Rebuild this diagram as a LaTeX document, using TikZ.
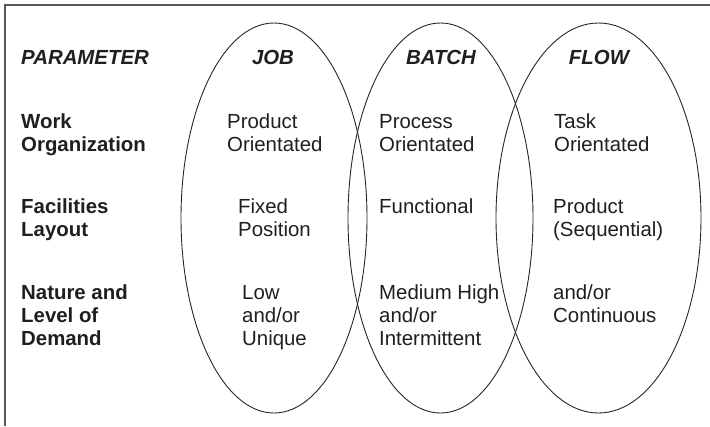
\documentclass[tikz,border=0pt]{standalone}
\usepackage{fontspec}
\setmainfont{Liberation Sans}
\usepackage{tikz}

\begin{document}
\begin{tikzpicture}[x=1pt, y=-1pt,
                    every node/.style={inner sep=0pt, anchor=base west, align=left, text=black!88,
                                       font=\fontsize{20.4}{23}\selectfont},
                    head_text/.style={anchor=base, font=\fontsize{20.4}{23}\selectfont\bfseries\itshape},
                    row_text/.style={font=\fontsize{20.4}{23}\selectfont\bfseries},
                    set_ellipse/.style={draw=black!85, line width=0.9pt},
                    frame_line/.style={draw=black!65, line width=1.6pt}
                ]
                    \useasboundingbox (0,0) rectangle (710,426);
                    \draw[frame_line] (5,426) -- (5,5) -- (710,5);

                    % the three sets
                    \draw[set_ellipse] (274,218) ellipse [x radius=93, y radius=195];
                    \draw[set_ellipse] (440.5,218) ellipse [x radius=92.5, y radius=195];
                    \draw[set_ellipse] (598.5,218) ellipse [x radius=102.5, y radius=195];

                    % headings
                    \node[head_text, anchor=base west] (param) at (21,64) {PARAMETER};
                    \node[head_text] (job) at (273,64) {JOB};
                    \node[head_text] (batch) at (441,64) {BATCH};
                    \node[head_text] (flow) at (599,64) {FLOW};

                    % parameters (placed at the baseline of the last line)
                    \node[row_text] (work) at (21,151) {Work\\Organization};
                    \node[row_text] (layout) at (21,236) {Facilities\\Layout};
                    \node[row_text] (demand) at (21,345) {Nature and\\Level of\\Demand};

                    % job
                    \node (job_work) at (227,151) {Product\\Orientated};
                    \node (job_layout) at (238,236) {Fixed\\Position};
                    \node (job_demand) at (242,345) {Low\\and/or\\Unique};

                    % batch
                    \node (batch_work) at (379,151) {Process\\Orientated};
                    \node (batch_layout) at (379,213) {Functional};
                    \node (batch_demand) at (379,345) {Medium High\\and/or\\Intermittent};

                    % flow
                    \node (flow_work) at (554,151) {Task\\Orientated};
                    \node (flow_layout) at (553,236) {Product\\(Sequential)};
                    \node (flow_demand) at (553,322) {and/or\\Continuous};
                \end{tikzpicture}
\end{document}
